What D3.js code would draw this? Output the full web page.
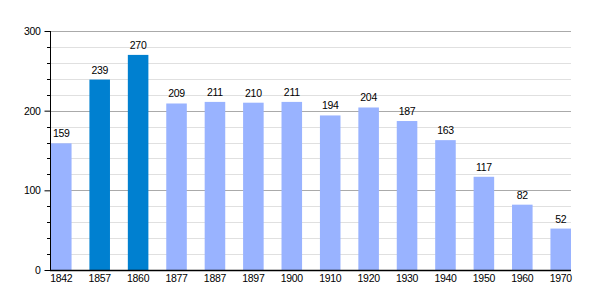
<!DOCTYPE html>
<meta charset="utf-8">
<style>
    body { margin: 0; background: #fff; }
    text { font-family: "Liberation Sans", Arial, sans-serif; font-size: 10.5px; letter-spacing: -0.3px; fill: #000; }
</style>
<body>
<script src="https://cdn.jsdelivr.net/npm/d3@7/dist/d3.min.js"></script>
<script>

    var years = ["1842", "1857", "1860", "1877", "1887", "1897", "1900", "1910", "1920", "1930", "1940", "1950", "1960", "1970"];
    var population = [159, 239, 270, 209, 211, 210, 211, 194, 204, 187, 163, 117, 82, 52];
    var highlighted = ["1857", "1860"];
    var yTicks = [0, 100, 200, 300];

    var width = 600,
        height = 300;

    var svg = d3.select("body").append("svg")
        .attr("width", width)
        .attr("height", height);

    var x = d3.scaleBand()
        .domain(years)
        .range([51, 571])
        .paddingInner(0.465)
        .paddingOuter(0);

    var y = d3.scaleLinear()
        .domain([0, 300])
        .range([270, 31]);

    var minor = d3.range(20, 300, 20).filter(function(v) { return v % 100 != 0; });

    // minor grid every 20
    svg.append("g")
        .selectAll("line")
        .data(minor)
        .enter().append("line")
        .attr("x1", 50).attr("x2", 571)
        .attr("y1", function(d) { return Math.round(y(d)) + 0.5; })
        .attr("y2", function(d) { return Math.round(y(d)) + 0.5; })
        .style("stroke", "#e0e0e0");

    // major grid
    svg.append("g")
        .selectAll("line")
        .data(yTicks.slice(1))
        .enter().append("line")
        .attr("x1", 50).attr("x2", 571)
        .attr("y1", function(d) { return Math.round(y(d)) + 0.5; })
        .attr("y2", function(d) { return Math.round(y(d)) + 0.5; })
        .style("stroke", "#aaaaaa");

    svg.append("g")
        .selectAll("rect")
        .data(population)
        .enter().append("rect")
        .attr("x", function(d, i) { return x(years[i]); })
        .attr("width", x.bandwidth())
        .attr("y", function(d) { return y(d); })
        .attr("height", function(d) { return y(0) - y(d); })
        .style("fill", function(d, i) {
            return highlighted.indexOf(years[i]) >= 0 ? "#0080d0" : "#99b3ff";
        });

    svg.append("g")
        .selectAll("text")
        .data(population)
        .enter().append("text")
        .attr("x", function(d, i) { return x(years[i]) + x.bandwidth() / 2; })
        .attr("y", function(d) { return y(d) - 6; })
        .attr("text-anchor", "middle")
        .text(function(d) { return d; });

    // y axis
    var yAxis = d3.axisLeft(y)
        .tickValues(yTicks)
        .tickSize(6)
        .tickPadding(4);
    var gy = svg.append("g")
        .attr("transform", "translate(50.5,0)")
        .call(yAxis);
    gy.select(".domain").remove();
    gy.selectAll("text").attr("font-size", null).attr("font-family", null);
    gy.selectAll("line").style("stroke", "#000");

    svg.append("g")
        .selectAll("line")
        .data(minor)
        .enter().append("line")
        .attr("x1", 47).attr("x2", 50)
        .attr("y1", function(d) { return Math.round(y(d)) + 0.5; })
        .attr("y2", function(d) { return Math.round(y(d)) + 0.5; })
        .style("stroke", "#000");

    svg.append("line")
        .attr("x1", 50.5).attr("x2", 50.5)
        .attr("y1", 31).attr("y2", 271)
        .style("stroke", "#000");

    // x axis
    var xAxis = d3.axisBottom(x).tickSize(0).tickPadding(5);
    var gx = svg.append("g")
        .attr("transform", "translate(0,270)")
        .call(xAxis);
    gx.select(".domain").remove();
    gx.selectAll("text").attr("font-size", null).attr("font-family", null);
    gx.attr("font-size", null).attr("font-family", null);
    gy.attr("font-size", null).attr("font-family", null);

    svg.append("line")
        .attr("x1", 50).attr("x2", 571)
        .attr("y1", 270.5).attr("y2", 270.5)
        .style("stroke", "#000")
        .style("stroke-width", 1.5);

</script>
